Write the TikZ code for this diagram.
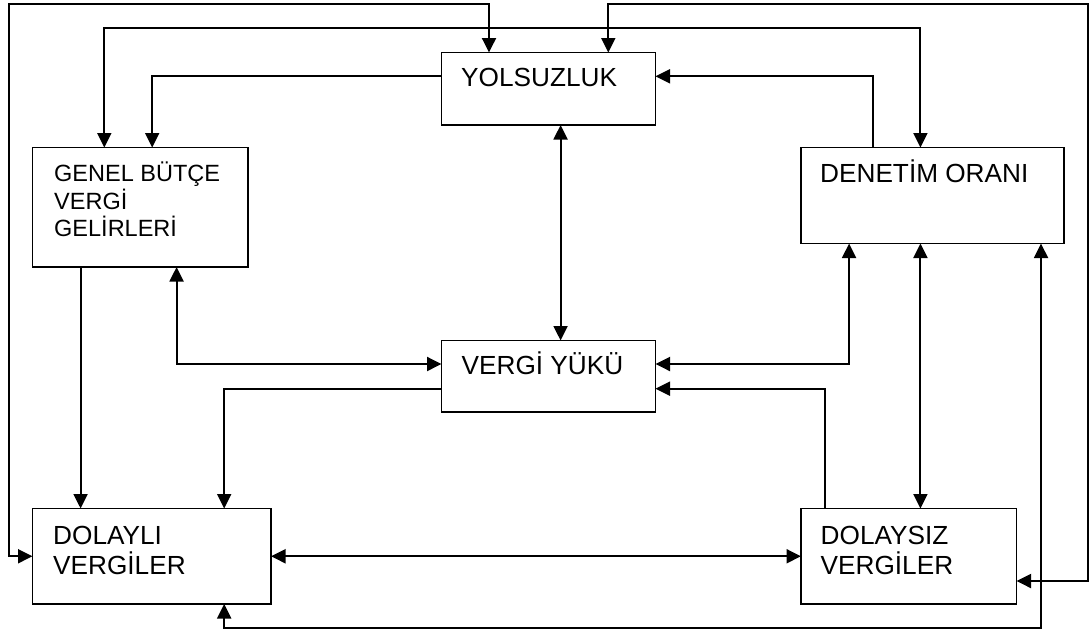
\documentclass[tikz,border=0pt]{standalone}
\usepackage{fontspec}
\setmainfont{Liberation Sans}
\usetikzlibrary{arrows.meta}
\begin{document}
\begin{tikzpicture}[x=1pt,y=-1pt,
  box/.style={draw, line width=1.9pt, inner sep=0pt, outer sep=0pt, anchor=north west},
  txt/.style={inner sep=0pt, anchor=base west, font=\fontsize{26.2}{28}\selectfont},
  stxt/.style={inner sep=0pt, anchor=base west, font=\fontsize{23.5}{26}\selectfont},
  tip/.tip={Triangle[length=14.5pt,width=14pt]},
  conn/.style={line width=1.9pt, -tip},
  biconn/.style={line width=1.9pt, tip-tip}]
\useasboundingbox (0,0) rectangle (1090,632);
% boxes
\node[box, minimum width=214pt, minimum height=72.5pt] (yol) at (441.5,52.5) {};
\node[box, minimum width=215.5pt, minimum height=119.5pt] (gen) at (32.5,147.5) {};
\node[box, minimum width=263pt, minimum height=96pt] (den) at (801,147.5) {};
\node[box, minimum width=214pt, minimum height=71.5pt] (vy) at (441.5,340.5) {};
\node[box, minimum width=238.5pt, minimum height=95.5pt] (dly) at (32.5,508.5) {};
\node[box, minimum width=215.5pt, minimum height=95.5pt] (dsz) at (801,508.5) {};
% texts
\node[txt] (yolt) at (461,86.7) {YOLSUZLUK};
\node[stxt] (gen1) at (54,181.7) {GENEL BÜTÇE};
\node[stxt] (gen2) at (54,209.3) {VERGİ};
\node[stxt] (gen3) at (54,236.7) {GELİRLERİ};
\node[txt] (dent) at (820,182.3) {DENETİM ORANI};
\node[txt] (vyt) at (461.5,374.7) {VERGİ YÜKÜ};
\node[txt] (dly1) at (53,544) {DOLAYLI};
\node[txt] (dly2) at (53,574) {VERGİLER};
\node[txt] (dsz1) at (820.5,544) {DOLAYSIZ};
\node[txt] (dsz2) at (820.5,574) {VERGİLER};
% columns
\coordinate (c9) at (9,0);
\coordinate (c80) at (80.6,0);
\coordinate (c104) at (104.3,0);
\coordinate (c152) at (152.2,0);
\coordinate (c177) at (176.6,0);
\coordinate (c224) at (224.2,0);
\coordinate (c489) at (489,0);
\coordinate (c561) at (560.6,0);
\coordinate (c608) at (608.3,0);
\coordinate (c825) at (824.8,0);
\coordinate (c849) at (849.1,0);
\coordinate (c873) at (872.8,0);
\coordinate (c920) at (920.4,0);
\coordinate (c1041) at (1041,0);
\coordinate (c1088) at (1088.3,0);
% rows
\coordinate (r4) at (0,4);
\coordinate (r28) at (0,28.3);
\coordinate (r76) at (0,76.3);
\coordinate (r364) at (0,364);
\coordinate (r389) at (0,388.7);
\coordinate (r581) at (0,581);
\coordinate (r628) at (0,628.3);
% connectors
\draw[biconn] (dly.west) -| (c9 |- r4) -| (yol.north -| c489);
\draw[biconn] (gen.north -| c104) |- (c920 |- r28) -- (den.north -| c920);
\draw[conn] (yol.west |- r76) -| (gen.north -| c152);
\draw[biconn] (yol.north -| c608) |- (c1088 |- r4) |- (dsz.east |- r581);
\draw[conn] (den.north -| c873) |- (yol.east |- r76);
\draw[biconn] (yol.south -| c561) -- (vy.north -| c561);
\draw[conn] (gen.south -| c80) -- (dly.north -| c80);
\draw[biconn] (gen.south -| c177) |- (vy.west |- r364);
\draw[conn] (vy.west |- r389) -| (dly.north -| c224);
\draw[biconn] (den.south -| c849) |- (vy.east |- r364);
\draw[biconn] (den.south -| c920) -- (dsz.north -| c920);
\draw[biconn] (den.south -| c1041) |- (c224 |- r628) -- (dly.south -| c224);
\draw[conn] (dsz.north -| c825) |- (vy.east |- r389);
\draw[biconn] (dly.east) -- (dsz.west);
\end{tikzpicture}
\end{document}
